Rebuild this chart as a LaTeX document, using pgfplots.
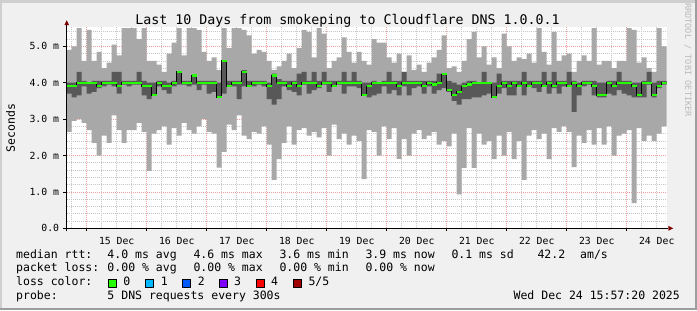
\documentclass[border=0pt]{standalone}
\usepackage{fontspec}
\setmainfont{DejaVu Sans Mono}
\newfontfamily\mono{DejaVu Sans Mono}
\usepackage{xcolor}
\usepackage{pgfplots}
\usepackage{pgfplotstable}
\usepgfplotslibrary{fillbetween}
\pgfplotsset{compat=1.18}
\definecolor{bgc}{HTML}{F0F0F0}
\definecolor{shadea}{HTML}{CFCFCF}
\definecolor{shadeb}{HTML}{9E9E9E}
\definecolor{smokelight}{HTML}{A8A8A8}
\definecolor{smokedark}{HTML}{585858}
\definecolor{mgrid}{HTML}{F0A0A0}
\definecolor{mingrid}{HTML}{C8C8C8}
\definecolor{arrowc}{HTML}{800000}
\definecolor{lc0}{HTML}{26FF00}
\definecolor{lc1}{HTML}{00B8FF}
\definecolor{lc2}{HTML}{0059FF}
\definecolor{lc3}{HTML}{7E00FF}
\definecolor{lc4}{HTML}{FF0000}
\definecolor{lc5}{HTML}{A10000}
\pagecolor{bgc}
\newcommand\lfont{\mono\fontsize{11.5bp}{13bp}\selectfont}
\newcommand\tfont{\mono\fontsize{13.3bp}{15bp}\selectfont}
\newcommand\kfont{\mono\fontsize{9.8bp}{11bp}\selectfont}
\newcommand\wfont{\mono\fontsize{8.6bp}{10bp}\selectfont}
% k = 2-hour bin index (bin k starts at Dec 14 16:00 + 2k h)
\pgfplotstableread{
k lo hi dlo dhi med
0 2.65 4.90 3.70 4.00 3.90
1 2.95 5.00 3.60 4.00 3.90
2 3.00 5.50 3.65 4.30 4.00
3 2.90 4.60 3.90 4.05 4.00
4 2.70 5.45 3.70 4.00 4.00
5 2.35 4.60 3.75 4.05 4.00
6 2.00 4.85 3.85 4.05 3.90
7 2.55 4.40 3.90 4.05 4.00
8 2.35 4.55 3.95 4.05 4.00
9 3.10 5.05 3.90 4.30 4.00
10 2.70 4.75 3.70 4.30 3.90
11 2.35 5.50 3.95 4.05 4.00
12 2.70 5.50 3.90 4.05 4.00
13 2.70 5.50 3.95 4.05 4.00
14 2.90 5.20 3.95 4.30 4.00
15 2.65 5.50 3.65 4.05 3.90
16 1.58 4.60 3.55 4.00 3.90
17 2.60 4.60 3.65 4.00 3.66
18 2.70 4.50 3.90 4.05 4.00
19 2.80 4.30 3.80 4.05 3.90
20 2.30 4.80 3.70 4.00 3.90
21 2.75 5.10 3.90 4.05 4.00
22 2.55 5.50 3.95 4.30 4.30
23 2.90 4.75 3.95 4.05 4.00
24 2.70 5.50 3.90 4.05 4.00
25 2.60 5.50 3.95 4.20 4.20
26 2.80 5.45 3.80 4.05 4.00
27 3.00 4.85 3.95 4.05 4.00
28 2.65 4.60 3.70 4.05 4.00
29 2.60 4.70 3.75 4.05 4.00
30 1.67 4.35 3.60 4.00 3.60
31 2.10 5.50 3.70 4.60 4.60
32 2.85 4.95 3.90 4.05 3.90
33 2.70 5.50 3.90 4.05 4.00
34 3.10 5.50 3.55 4.05 4.00
35 2.55 5.45 3.90 4.35 4.30
36 2.45 5.30 3.90 4.05 3.90
37 2.65 4.80 3.90 4.05 4.00
38 2.60 4.90 3.95 4.05 4.00
39 2.80 4.85 3.90 4.05 4.00
40 2.30 4.60 3.55 4.00 3.90
41 1.33 4.35 3.40 4.25 4.20
42 1.90 4.45 3.55 4.10 4.00
43 2.35 4.60 3.90 4.05 4.00
44 2.80 4.80 3.80 4.05 3.90
45 2.30 4.40 3.75 4.05 4.00
46 2.70 4.95 3.65 4.25 3.90
47 2.75 5.45 3.95 4.30 4.00
48 2.55 5.40 3.70 4.05 4.00
49 2.65 4.70 3.80 4.30 4.00
50 2.50 5.50 3.85 4.05 3.90
51 2.75 5.35 3.95 4.30 4.00
52 2.00 4.40 3.75 4.05 4.00
53 2.85 4.60 3.90 4.05 3.90
54 2.45 4.70 3.95 4.05 4.00
55 2.60 5.25 3.70 4.30 4.00
56 2.30 4.85 3.90 4.05 4.00
57 2.55 4.55 3.90 4.30 4.00
58 2.40 4.85 3.85 4.05 4.00
59 1.35 4.60 3.65 4.00 3.66
60 2.70 4.50 3.60 4.00 3.90
61 2.65 5.20 3.65 4.05 4.00
62 2.00 5.10 3.70 4.00 4.00
63 2.80 5.10 3.90 4.05 4.00
64 2.45 4.70 3.70 4.30 4.00
65 2.75 4.55 3.80 4.05 4.00
66 1.91 4.80 3.65 4.05 3.90
67 2.45 4.30 3.90 4.30 4.00
68 2.00 4.75 3.65 4.05 4.00
69 2.60 4.35 3.85 4.05 4.00
70 2.70 4.50 3.90 4.05 4.00
71 2.45 4.30 3.70 4.05 3.90
72 2.55 4.55 3.90 4.05 4.00
73 2.65 4.70 3.70 4.05 3.95
74 2.30 4.90 3.80 4.25 4.00
75 2.40 5.30 3.85 4.25 4.24
76 2.25 4.40 3.75 4.05 3.80
77 2.60 4.45 3.50 4.00 3.66
78 0.93 4.30 3.40 3.95 3.75
79 1.66 4.60 3.55 4.00 3.90
80 2.75 5.20 3.55 4.05 3.95
81 1.66 5.40 3.60 4.05 4.00
82 2.60 4.70 3.60 4.00 4.00
83 2.30 5.00 3.65 4.30 4.00
84 2.40 4.50 3.70 4.00 4.00
85 1.90 4.70 3.60 4.00 3.60
86 2.55 4.40 3.70 4.25 3.90
87 2.00 5.35 3.85 4.05 4.00
88 2.65 5.00 3.65 4.05 3.90
89 1.90 4.60 3.65 4.05 4.00
90 2.40 4.70 3.90 4.05 3.90
91 1.33 4.65 3.65 4.30 4.00
92 2.55 4.80 3.90 4.05 3.90
93 2.70 4.55 3.85 4.05 4.00
94 2.45 5.50 3.75 4.05 4.00
95 2.60 4.85 3.90 4.30 3.90
96 1.90 4.50 3.70 4.05 4.00
97 2.75 5.40 3.85 4.30 3.90
98 2.65 4.60 3.70 4.05 4.00
99 2.80 4.75 3.90 4.05 4.00
100 2.65 4.80 3.90 4.30 3.90
101 1.68 4.30 3.20 4.05 4.00
102 2.55 4.60 3.65 4.00 3.90
103 2.35 4.75 3.90 4.05 4.00
104 2.70 4.60 3.95 4.05 4.00
105 2.30 5.50 3.65 4.05 3.90
106 2.75 4.50 3.60 4.00 3.66
107 2.30 4.60 3.60 4.00 3.66
108 2.80 4.60 3.70 4.05 4.00
109 2.00 4.40 3.65 4.05 3.90
110 2.55 4.60 3.80 4.30 4.00
111 2.60 4.60 3.70 4.05 4.00
112 2.70 5.50 3.65 4.05 4.00
113 0.69 5.45 3.60 4.00 3.90
114 2.75 4.55 3.60 4.00 3.66
115 2.40 4.70 3.60 4.05 4.00
116 2.55 4.40 3.95 4.30 4.00
117 2.40 4.30 3.60 4.00 3.66
118 2.60 5.50 3.85 4.05 3.90
119 2.80 5.00 3.95 4.05 4.00
120 2.80 5.00 3.95 4.05 4.00
}\smoke
\begin{document}%
\begin{tikzpicture}[x=1bp,y=1bp]
% frame edges (also fix the picture size)
\fill[shadea] (-66.7,225.8) rectangle (630.3,228.3);
\fill[shadea] (-66.7,-81.7) rectangle (-64.2,228.3);
\fill[shadeb] (-66.7,-81.7) rectangle (630.3,-79.2);
\fill[shadeb] (627.8,-81.7) rectangle (630.3,228.3);
\begin{axis}[
  at={(0,0)}, anchor=south west,
  scale only axis, width=600bp, height=201.6bp,
  xmin=-0.333333, xmax=9.666667, ymin=0, ymax=5.54,
  axis background/.style={fill=white},
  axis lines*=left,
  axis line style={draw=none},
  xtick={0.5,1.5,...,9.5},
  xticklabels={15 Dec,16 Dec,17 Dec,18 Dec,19 Dec,20 Dec,21 Dec,22 Dec,23 Dec,24 Dec},
  xtick style={draw=none},
  extra x ticks={0,1,...,9},
  extra x tick labels={},
  extra x tick style={xmajorgrids=true, xtick style={draw=black, line width=0.8bp}, major tick length=2.5bp},
  minor xtick={-0.25,0.25,0.5,0.75,1.25,1.5,1.75,2.25,2.5,2.75,3.25,3.5,3.75,4.25,4.5,4.75,5.25,5.5,5.75,6.25,6.5,6.75,7.25,7.5,7.75,8.25,8.5,8.75,9.25,9.5},
  xminorgrids=true,
  ytick={0,1,2,3,4,5},
  yticklabels={0.0,1.0 m,2.0 m,3.0 m,4.0 m,5.0 m},
  minor ytick={0.2,0.4,0.6,0.8,1.2,1.4,1.6,1.8,2.2,2.4,2.6,2.8,3.2,3.4,3.6,3.8,4.2,4.4,4.6,4.8,5.2,5.4},
  ymajorgrids=true, yminorgrids=true,
  ytick style={draw=black, line width=0.8bp},
  tick align=outside, major tick length=3.4bp, minor tick length=0pt,
  major grid style={mgrid, line width=0.8bp, dash pattern=on 1bp off 1bp},
  minor grid style={mingrid, line width=0.8bp, dash pattern=on 1bp off 1bp},
  xticklabel style={font=\kfont, inner sep=0pt, anchor=north, yshift=-5.7bp},
  yticklabel style={font=\kfont, inner sep=0pt, anchor=east, xshift=-4bp},
]
\addplot[const plot, draw=none, name path=hi] table[x expr=\thisrow{k}/12-1/3, y=hi]{\smoke};
\addplot[const plot, draw=none, name path=lo] table[x expr=\thisrow{k}/12-1/3, y=lo]{\smoke};
\addplot[const plot, draw=none, name path=dhi] table[x expr=\thisrow{k}/12-1/3, y=dhi]{\smoke};
\addplot[const plot, draw=none, name path=dlo] table[x expr=\thisrow{k}/12-1/3, y=dlo]{\smoke};
\addplot[smokelight, draw=none] fill between[of=hi and lo];
\addplot[smokedark, draw=none] fill between[of=dhi and dlo];
\addplot[const plot mark left, black, line width=1bp, mark=none] table[x expr=\thisrow{k}/12-1/3, y=med]{\smoke};
\addplot[jump mark left, lc0, line width=2.2bp, mark=none] table[x expr=\thisrow{k}/12-1/3, y=med]{\smoke};
\end{axis}
% axis lines with arrows
\draw[black, line width=1bp] (-3.7,0) -- (601.6,0);
\fill[arrowc] (601.6,-2.4) -- (606.6,0) -- (601.6,2.4) -- cycle;
\draw[black, line width=1bp] (0,-3) -- (0,203.3);
\fill[arrowc] (-2.3,203.3) -- (0,208) -- (2.3,203.3) -- cycle;
% title and labels
\node[anchor=base, inner sep=0pt, font=\tfont] at (280.8,204.3) {Last 10 Days from smokeping to Cloudflare DNS 1.0.0.1};
\node[rotate=90, inner sep=0pt, font=\lfont] at (-56,100.5) {Seconds};
\node[rotate=-90, inner sep=0pt, font=\wfont, text=shadeb!70] at (621.3,168.3) {RRDTOOL / TOBI OETIKER};
% legend
\begin{scope}[every node/.style={anchor=base west, inner sep=0pt, font=\lfont}]
\node at (-50.7,-30.2) {median rtt:};
\node at (40.6,-30.2) {4.0 ms avg};
\node at (126.6,-30.2) {4.6 ms max};
\node at (212.6,-30.2) {3.6 ms min};
\node at (298.6,-30.2) {3.9 ms now};
\node at (384.6,-30.2) {0.1 ms sd};
\node at (470.6,-30.2) {42.2};
\node at (513.3,-30.2) {am/s};
\node at (-50.7,-43.2) {packet loss:};
\node at (40.6,-43.2) {0.00 \% avg};
\node at (126.6,-43.2) {0.00 \% max};
\node at (212.6,-43.2) {0.00 \% min};
\node at (298.6,-43.2) {0.00 \% now};
\node at (-50.7,-57.2) {loss color:};
\node at (56.6,-57.2) {0};
\node at (94,-57.2) {1};
\node at (131,-57.2) {2};
\node at (167.3,-57.2) {3};
\node at (204.3,-57.2) {4};
\node at (241.6,-57.2) {5/5};
\node at (-50.7,-70.7) {probe:};
\node at (40.6,-70.7) {5 DNS requests every 300s};
\node[anchor=base east] at (613.3,-70.7) {Wed Dec 24 15:57:20 2025};
\end{scope}
\foreach \xx/\cc in {41.6/lc0,79/lc1,116/lc2,152.3/lc3,189.3/lc4,226.6/lc5}{
  \filldraw[fill=\cc, draw=black, line width=0.8bp] (\xx,-58.7) rectangle ++(8,8);
}
\end{tikzpicture}%
\end{document}
